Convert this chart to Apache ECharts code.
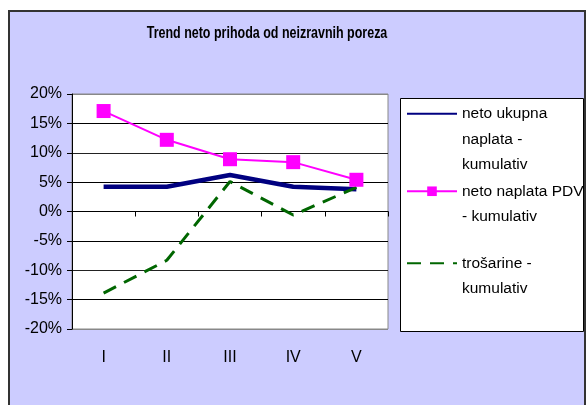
<!DOCTYPE html>
<html>
<head>
<meta charset="utf-8">
<script src="https://cdn.jsdelivr.net/npm/echarts@6/dist/echarts.min.js"></script>
<style>
  html, body { margin: 0; padding: 0; background: #fff; }
  .frame {
    position: absolute;
    left: 8px; top: 10px;
    width: 578px; height: 420px;
    box-sizing: border-box;
    background: #ccccff;
    border: 2px solid #333;
  }
  #chart { position: absolute; left: 0; top: 0; width: 587px; height: 405px; }
</style>
</head>
<body>
<div class="frame"></div>
<div id="chart"></div>
<script>
  // podaci s grafa
  const categories = ['I', 'II', 'III', 'IV', 'V']
  const ukupna = [4.2, 4.2, 6.2, 4.2, 3.8]
  const pdv = [17.1, 12.2, 8.9, 8.4, 5.4]
  const trosarine = [-13.9, -8.3, 5.1, -0.6, 4.1]
  const seriesNames = ['neto ukupna naplata - kumulativ', 'neto naplata PDV - kumulativ', 'trošarine - kumulativ']
  const legendText = {
    'neto ukupna naplata - kumulativ': '\n\nneto ukupna\nnaplata -\nkumulativ',
    'neto naplata PDV - kumulativ': '\nneto naplata PDV\n- kumulativ',
    'trošarine - kumulativ': '\ntrošarine -\nkumulativ'
  }
  const chartTitle = 'Trend neto prihoda od neizravnih poreza'

  const font = 'Liberation Sans, Arial, sans-serif'
  let myChart = echarts.init(document.getElementById('chart'))

  function legendFor(name, top, hideSymbol) {
    return {
      data: [name],
      left: 406,
      top: top,
      padding: 0,
      itemWidth: 50,
      itemHeight: 12,
      selectedMode: false,
      itemStyle: hideSymbol ? { opacity: 0 } : {},
      formatter: (n) => legendText[n],
      textStyle: { fontFamily: font, fontSize: 15.5, color: '#000', lineHeight: 25.5 }
    }
  }

  const option = {
    animation: false,
    graphic: [
      {
        // naslov - uski bold kao u excelu
        type: 'text',
        x: 267,
        y: 34,
        scaleX: 0.78,
        style: {
          text: chartTitle,
          font: 'bold 16px Liberation Sans, Arial, sans-serif',
          fill: '#000',
          align: 'center',
          verticalAlign: 'middle'
        }
      },
      {
        type: 'rect',
        shape: { x: 400.5, y: 98.5, width: 183, height: 233 },
        style: { fill: '#fff', stroke: '#000', lineWidth: 1 }
      }
    ],
    legend: [
      legendFor(seriesNames[0], 50, true),
      legendFor(seriesNames[1], 153, false),
      legendFor(seriesNames[2], 225, true)
    ],
    grid: {
      left: 72, top: 94, width: 316, height: 235,
      show: true,
      backgroundColor: '#fff',
      borderColor: '#888',
      borderWidth: 1
    },
    xAxis: [
      {
        type: 'category',
        data: categories,
        position: 'bottom',
        axisLine: { onZero: true, lineStyle: { color: '#000', width: 1 } },
        axisTick: { show: true, length: 5, interval: 0, lineStyle: { color: '#000' } },
        axisLabel: { show: false },
        splitLine: { show: false }
      },
      {
        type: 'category',
        data: categories,
        position: 'bottom',
        axisLine: { show: false, onZero: false },
        axisTick: { show: false },
        axisLabel: { margin: 21, fontFamily: font, fontSize: 16, color: '#000' },
        splitLine: { show: false }
      }
    ],
    yAxis: {
      type: 'value',
      min: -20,
      max: 20,
      interval: 5,
      axisLine: { show: true, lineStyle: { color: '#000' } },
      axisTick: { show: true, length: 5, lineStyle: { color: '#000' } },
      axisLabel: { margin: 10, formatter: '{value}%', fontFamily: font, fontSize: 16, color: '#000' },
      splitLine: {
        show: true,
        lineStyle: { color: ['#888', '#000', '#222', '#000', '#000', '#000', '#222', '#000', '#888'], width: 1 }
      }
    },
    series: [
      {
        name: seriesNames[0],
        type: 'line',
        data: ukupna,
        symbol: 'none',
        color: '#000080',
        lineStyle: { color: '#000080', width: 4.5 }
      },
      {
        name: seriesNames[1],
        type: 'line',
        data: pdv,
        symbol: 'rect',
        symbolSize: 14,
        color: '#ff00ff',
        itemStyle: { color: '#ff00ff' },
        lineStyle: { color: '#ff00ff', width: 2 }
      },
      {
        name: seriesNames[2],
        type: 'line',
        data: trosarine,
        symbol: 'none',
        color: '#006600',
        lineStyle: { color: '#006600', width: 3, type: [14, 9] }
      }
    ]
  }
  myChart.setOption(option)
</script>
</body>
</html>
